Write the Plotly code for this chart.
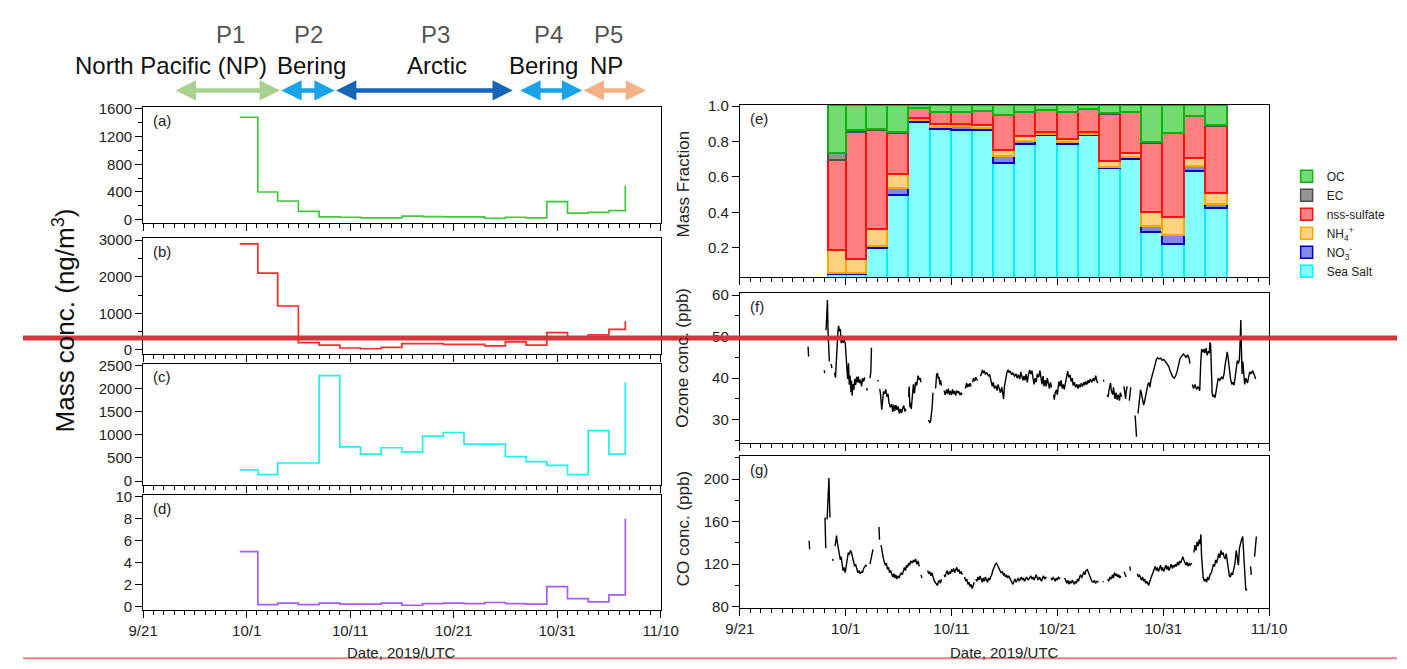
import plotly.graph_objects as go
import pandas as pd
from datetime import datetime, timedelta

# ---------------- data ----------------
# left panels: step series (sample start times; last point drawn as final spike)
left_times = ["2019-09-30 08:00", "2019-10-02 02:00", "2019-10-04", "2019-10-06", "2019-10-08",
              "2019-10-10", "2019-10-12", "2019-10-14", "2019-10-16", "2019-10-18", "2019-10-20",
              "2019-10-22", "2019-10-24", "2019-10-26", "2019-10-28", "2019-10-30", "2019-11-01",
              "2019-11-03", "2019-11-05", "2019-11-06 14:00"]
oc_mass = [1480, 400, 270, 120, 40, 35, 25, 25, 50, 45, 40, 40, 20, 35, 25, 260, 95, 105, 130, 490]
sulfate_mass = [2900, 2100, 1200, 200, 130, 50, 30, 70, 170, 170, 150, 150, 110, 220, 130, 470, 330, 410, 560, 780]
seasalt_mass = [240, 140, 390, 390, 2280, 740, 580, 720, 630, 970, 1050, 800, 800, 530, 420, 340, 140, 1090, 580, 2140]
panel_d_mass = [5.0, 0.15, 0.3, 0.15, 0.3, 0.2, 0.2, 0.3, 0.1, 0.25, 0.3, 0.25, 0.35, 0.25, 0.2, 1.8, 0.7, 0.4, 1.05, 8.0]

# panel (e): mass fractions, one bar per filter sample
bar_edges = ["2019-09-29 09:00", "2019-10-01 02:00", "2019-10-03 00:00", "2019-10-05 00:00", "2019-10-07 00:00",
             "2019-10-09 00:00", "2019-10-11 00:00", "2019-10-13 00:00", "2019-10-15 00:00", "2019-10-17 00:00",
             "2019-10-19 00:00", "2019-10-21 00:00", "2019-10-23 00:00", "2019-10-25 00:00", "2019-10-27 00:00",
             "2019-10-29 00:00", "2019-10-31 00:00", "2019-11-02 00:00", "2019-11-04 00:00", "2019-11-06 03:00"]
frac_seasalt = [.045, .045, .195, .495, .905, .866, .86, .86, .675, .78, .83, .783, .83, .645, .697, .283, .218, .628, .42]
frac_no3 = [.005, .01, .01, .04, .015, .014, .025, .01, .037, .02, .008, .01, .008, .009, .009, .037, .052, .032, .025]
frac_nh4 = [.13, .075, .095, .075, .01, .015, .01, .02, .038, .025, .014, .017, .012, .03, .027, .077, .10, .042, .062]
frac_sulfate = [.51, .72, .562, .233, .055, .065, .065, .077, .195, .138, .12, .152, .13, .27, .227, .391, .473, .238, .377]
frac_ec = [.04, .01, .006, .004, .002, .002, .002, .002, .003, .002, .002, .002, .002, .002, .002, .004, .003, .002, .003]
frac_oc = [.27, .14, .132, .153, .013, .038, .038, .031, .052, .035, .026, .036, .018, .044, .038, .208, .154, .058, .113]

# ozone (days after 2019-09-21, ppb); None = data gap
ozone_obs = [
    (6.45, 47.6), (6.50, 45.2), None, (7.98, 41.9), (8.02, 41.2), None,
    (8.15, 51.5), (8.22, 55.5), (8.28, 58.8), (8.34, 51.0), (8.40, 44.3), (8.46, 44.0), None,
    (8.62, 43.4), (8.70, 42.4), None,
    (8.95, 41.3), (9.04, 40.1), (9.12, 44.0), (9.20, 49.5), (9.28, 51.5), (9.34, 52.6), (9.42, 51.3),
    (9.50, 51.8), (9.58, 48.4), (9.66, 50.2), (9.76, 48.5), (9.86, 49.4), (9.97, 48.2), (10.05, 45.0),
    (10.12, 41.2), (10.19, 39.8), (10.27, 43.6), (10.34, 38.4), (10.42, 40.6), (10.50, 36.6), (10.56, 39.4),
    (10.61, 35.8), (10.70, 38.6), (10.78, 37.2), (10.86, 39.8), (10.95, 38.4), (11.04, 40.3), (11.12, 39.0),
    (11.20, 40.4), (11.30, 38.8), (11.40, 39.6), (11.50, 38.0), (11.60, 40.0), (11.70, 39.2), (11.80, 40.2), None,
    (12.00, 37.6), (12.03, 37.0), None, (12.30, 40.0), (12.38, 41.6), (12.44, 47.3), None,
    (13.05, 39.6), (13.08, 39.2), None,
    (13.22, 37.4), (13.30, 36.0), (13.41, 32.4), (13.50, 34.6), (13.58, 36.8), (13.68, 36.2), (13.79, 37.3),
    (13.90, 35.5), (14.00, 36.2), (14.10, 34.0), (14.22, 33.0), (14.35, 33.8), (14.45, 31.9), (14.55, 33.6),
    (14.64, 32.1), (14.75, 33.5), (14.86, 32.3), (14.95, 33.2), (15.07, 31.5), (15.18, 32.6), (15.28, 31.6),
    (15.40, 32.8), (15.49, 33.4), (15.60, 32.0), (15.70, 32.6), None,
    (15.95, 35.5), (16.00, 38.0), (16.07, 33.0), (16.13, 34.0), (16.20, 32.6), (16.30, 35.0), (16.40, 38.5),
    (16.50, 36.3), (16.60, 39.0), (16.70, 38.2), (16.85, 40.6), (16.95, 39.6), (17.05, 40.0), (17.12, 39.0), None,
    (17.83, 29.9), (17.95, 29.2), (18.04, 29.9), (18.12, 31.5), (18.17, 33.0), (18.25, 36.5), None,
    (18.50, 37.5), (18.59, 40.8), (18.68, 41.2), (18.76, 39.8), (18.82, 40.3), (18.89, 38.5), (18.96, 39.5),
    (19.05, 38.2), None,
    (19.30, 37.0), (19.40, 36.0), (19.52, 37.2), (19.60, 36.3), (19.70, 37.5), (19.80, 36.0), (19.90, 36.9),
    (20.00, 35.9), (20.10, 37.3), (20.20, 36.2), (20.30, 36.9), (20.40, 35.8), (20.50, 37.0), (20.60, 36.4),
    (20.70, 36.8), (20.80, 35.9), (20.90, 36.5), (21.00, 36.0), None,
    (21.30, 37.5), (21.43, 38.8), (21.50, 37.8), (21.56, 38.6), (21.65, 37.9), (21.75, 38.8), (21.86, 38.0), None,
    (22.00, 39.0), (22.07, 40.0), (22.20, 39.3), (22.30, 40.2), (22.40, 39.6), (22.50, 39.5), None,
    (22.70, 40.5), (22.80, 40.8), (22.92, 42.0), (23.00, 41.2), (23.10, 41.8), (23.20, 41.0), (23.34, 41.3),
    (23.50, 40.5), (23.60, 40.9), (23.77, 39.0), (23.85, 38.0), (23.95, 39.0), (24.05, 37.5), (24.19, 38.2),
    (24.30, 37.0), (24.40, 38.5), (24.50, 37.6), (24.62, 36.5), (24.75, 37.8), (24.85, 36.0), (24.92, 35.0),
    (25.00, 38.0), (25.10, 39.5), (25.25, 41.5), (25.35, 42.0), (25.45, 41.3), (25.55, 41.7), (25.68, 40.8),
    (25.80, 41.3), (25.95, 40.5), (26.10, 41.0), (26.20, 40.0), (26.32, 40.8), (26.45, 39.8), (26.55, 41.5),
    (26.65, 40.3), (26.74, 39.5), (26.85, 40.5), (26.95, 39.5), (27.05, 41.0), (27.16, 39.0), (27.25, 40.5),
    (27.38, 42.0), (27.50, 41.0), (27.60, 41.8), (27.70, 40.0), (27.80, 38.5), (27.90, 40.0), (28.00, 39.0),
    (28.10, 41.0), (28.23, 40.2), (28.35, 41.8), (28.44, 40.0), (28.55, 38.5), (28.65, 40.5), (28.75, 38.0),
    (28.86, 39.5), (28.95, 38.0), (29.05, 40.0), (29.15, 38.5), (29.25, 37.5), (29.35, 39.0), (29.45, 37.8), None,
    (29.65, 36.0), (29.71, 34.8), (29.80, 36.5), (29.92, 37.2), (30.00, 36.0), (30.14, 39.2), (30.25, 38.0),
    (30.35, 39.5), (30.45, 37.5), (30.56, 38.5), (30.65, 37.3), (30.77, 38.8), (30.88, 40.0), (30.98, 41.7),
    (31.08, 40.2), (31.20, 40.8), (31.30, 39.2), (31.40, 40.0), (31.50, 38.2), (31.62, 39.0), (31.72, 37.8),
    (31.85, 38.5), (31.95, 37.5), (32.05, 38.5), (32.15, 37.8), (32.26, 38.8), (32.38, 38.0), (32.50, 39.0),
    (32.60, 38.3), (32.68, 39.2), (32.80, 38.5), (32.90, 39.5), (33.00, 38.8), (33.11, 39.8), (33.25, 39.0),
    (33.40, 40.0), (33.50, 39.3), (33.62, 40.6), (33.72, 39.5), (33.80, 38.8), None,
    (34.35, 39.6), (34.40, 39.2), None,
    (34.70, 36.0), (34.80, 35.5), (34.90, 37.5), (35.02, 38.8), (35.10, 37.0), (35.23, 36.0), (35.30, 37.8),
    (35.44, 35.0), (35.55, 36.5), (35.65, 34.8), (35.75, 36.0), (35.87, 34.6), (35.95, 36.5), (36.08, 35.5), None,
    (36.29, 38.0), (36.35, 36.5), (36.45, 35.0), (36.50, 36.8), (36.60, 38.0), None,
    (36.80, 34.6), (36.93, 37.8), None,
    (37.35, 31.0), (37.42, 28.5), (37.48, 25.9), None,
    (37.62, 31.5), (37.69, 33.0), (37.78, 36.0), (37.86, 37.2), (37.95, 36.2), (38.05, 35.0), (38.15, 33.5),
    (38.25, 34.5), (38.35, 36.0), (38.45, 37.5), (38.55, 38.5), (38.65, 39.0), (38.75, 37.8), (38.84, 39.5),
    (38.95, 40.5), (39.05, 41.5), (39.15, 42.0), (39.26, 43.5), (39.35, 44.5), (39.47, 44.9), (39.60, 44.6),
    (39.75, 44.8), (39.90, 44.3), (40.05, 44.5), (40.20, 44.0), (40.35, 43.5), (40.53, 42.8), (40.65, 41.8),
    (40.75, 41.0), (40.90, 40.3), (41.05, 40.0), (41.17, 40.5), (41.30, 41.5), (41.38, 42.5), (41.50, 44.0),
    (41.60, 44.8), (41.75, 45.3), (41.90, 45.8), (42.02, 45.5), (42.15, 45.0), (42.30, 45.6), (42.44, 44.8),
    (42.53, 43.5), None,
    (42.75, 38.5), (42.87, 37.5), (43.00, 38.5), (43.15, 37.3), (43.29, 38.0), (43.45, 37.0), (43.55, 44.0),
    (43.63, 47.0), (43.75, 46.2), (43.85, 47.0), (43.93, 46.0), (44.05, 47.2), (44.15, 45.5), (44.25, 46.5),
    (44.35, 46.0), (44.42, 48.6), (44.48, 48.0), (44.55, 41.0), (44.62, 36.5), (44.70, 35.5), (44.80, 36.0),
    (44.90, 35.3), (45.00, 37.0), (45.10, 39.0), (45.20, 40.0), (45.35, 39.5), (45.50, 40.2), (45.63, 39.8),
    (45.75, 41.0), (45.84, 43.0), (45.95, 45.0), (46.05, 46.3), (46.15, 44.5), (46.25, 42.0), (46.35, 40.0),
    (46.48, 38.5), (46.60, 39.0), (46.70, 38.3), (46.80, 40.5), (46.90, 43.5), (47.00, 44.2), (47.10, 43.5),
    (47.20, 44.5), (47.28, 50.0), (47.33, 54.0), (47.38, 48.0), (47.45, 41.0), (47.52, 44.0), (47.60, 40.0),
    (47.70, 38.5), (47.80, 40.0), (47.96, 38.8), (48.05, 40.0), (48.17, 41.5), (48.30, 41.0), (48.45, 41.8),
    (48.60, 40.8), (48.73, 39.8),
]

# CO (days after 2019-09-21, ppb); None = data gap
co_obs = [
    (6.55, 142), (6.60, 134), None, (8.05, 164), (8.08, 153), (8.12, 135), None,
    (8.25, 162), (8.35, 185), (8.42, 201), (8.47, 180), (8.52, 164), None, (8.78, 125), (8.82, 123), None,
    (9.00, 137), (9.08, 145), (9.14, 147), (9.22, 140), (9.30, 136), (9.40, 131), (9.50, 124), (9.58, 127),
    (9.66, 119), (9.75, 114), (9.85, 117), (9.96, 112), (10.05, 118), (10.15, 126), (10.25, 131), (10.35, 129),
    (10.45, 133), (10.55, 131), (10.65, 127), (10.75, 122), (10.85, 118), (10.94, 120), (11.05, 115), (11.15, 112),
    (11.25, 114), (11.37, 111), (11.50, 113), (11.60, 112), (11.70, 116), (11.80, 117), (11.90, 119), (12.00, 118), None,
    (12.30, 120), (12.40, 124), (12.50, 129), (12.58, 134), None, (13.15, 155), (13.20, 143), None,
    (13.35, 138), (13.45, 130), (13.55, 126), (13.65, 122), (13.75, 119), (13.85, 121), (13.95, 115), (14.05, 117),
    (14.15, 112), (14.25, 114), (14.35, 110), (14.45, 108), (14.55, 111), (14.65, 107), (14.75, 110), (14.85, 106),
    (14.95, 109), (15.05, 107), (15.15, 110), (15.24, 112), (15.35, 110), (15.45, 115), (15.55, 117), (15.65, 114),
    (15.75, 119), (15.85, 117), (15.95, 121), (16.05, 119), (16.15, 123), (16.30, 121), (16.40, 124), (16.50, 122),
    (16.60, 125), (16.74, 120), (16.85, 123), (16.95, 118), None, (17.12, 110), (17.20, 107), None,
    (17.75, 114), (17.85, 111), (17.95, 113), (18.05, 109), (18.15, 112), (18.25, 107), (18.35, 105), (18.45, 103),
    (18.55, 101), (18.67, 100), (18.75, 103), (18.85, 105), (18.95, 102), (19.05, 106), None,
    (19.30, 110), (19.40, 108), (19.50, 112), (19.60, 114), (19.70, 110), (19.80, 113), (19.90, 111), (20.00, 115),
    (20.10, 113), (20.20, 116), (20.30, 112), (20.40, 114), (20.50, 117), (20.60, 113), (20.70, 115), (20.80, 111),
    (20.90, 113), (21.03, 110), None,
    (21.24, 108), (21.35, 104), (21.45, 106), (21.55, 101), (21.65, 103), (21.75, 99), (21.85, 101), (21.95, 97),
    (22.05, 100), (22.15, 103), None,
    (22.30, 106), (22.40, 104), (22.50, 108), (22.60, 105), (22.70, 109), (22.80, 106), (22.90, 103), (23.00, 107),
    (23.10, 104), (23.20, 108), (23.30, 106), (23.40, 103), (23.50, 107), (23.60, 105), (23.70, 108), (23.80, 110),
    (23.90, 114), (24.03, 118), (24.15, 120), (24.25, 121), (24.35, 119), (24.46, 117), (24.55, 115), (24.68, 112),
    (24.80, 113), (24.90, 110), (25.00, 111), (25.10, 108), (25.20, 110), (25.30, 107), (25.40, 109), (25.50, 106),
    (25.60, 105), (25.70, 103), (25.80, 101), (25.90, 104), (26.00, 106), (26.10, 103), (26.20, 105), (26.30, 107),
    (26.40, 104), (26.50, 106), (26.60, 108), (26.70, 105), (26.80, 107), (26.90, 104), (27.00, 106), (27.10, 108),
    (27.25, 105), (27.40, 107), (27.50, 109), (27.60, 106), (27.70, 108), (27.80, 105), (27.90, 107), (28.00, 110),
    (28.10, 107), (28.20, 105), (28.30, 108), (28.40, 106), (28.50, 104), (28.60, 107), (28.70, 109), (28.80, 106),
    (28.97, 108), None,
    (29.40, 107), (29.50, 105), (29.60, 108), (29.70, 106), (29.80, 104), (29.90, 107), (30.00, 105), (30.10, 108),
    (30.26, 106), None,
    (30.69, 107), (30.80, 104), (30.90, 102), (31.00, 105), (31.10, 101), (31.20, 104), (31.30, 102), (31.40, 105),
    (31.50, 103), (31.60, 101), (31.70, 104), (31.80, 102), (31.90, 106), (32.00, 104), (32.10, 108), (32.20, 110),
    (32.30, 107), (32.40, 111), (32.50, 113), (32.60, 110), (32.70, 114), (32.83, 115), (32.95, 112), (33.05, 109),
    (33.15, 106), (33.26, 104), (33.40, 103), (33.50, 105), (33.60, 102), (33.75, 104), (33.90, 103), None,
    (34.30, 104), (34.35, 103), None,
    (34.76, 106), (34.85, 104), (34.98, 108), (35.10, 106), (35.20, 110), (35.30, 107), (35.40, 112), (35.50, 109),
    (35.60, 111), (35.70, 108), (35.80, 110), (35.90, 107), (36.00, 109), None,
    (36.30, 113), (36.40, 110), (36.50, 108), None, (36.85, 118), (36.90, 114), None,
    (37.55, 111), (37.65, 108), (37.75, 110), (37.85, 107), (37.95, 105), (38.05, 108), (38.15, 104), (38.25, 106),
    (38.35, 102), (38.45, 104), (38.55, 101), (38.63, 100), (38.70, 103), (38.80, 106), (38.90, 109), (39.06, 112),
    (39.15, 115), (39.25, 118), (39.35, 114), (39.45, 117), (39.55, 113), (39.65, 116), (39.75, 119), (39.85, 114),
    (39.95, 117), (40.05, 113), (40.15, 116), (40.25, 119), (40.35, 115), (40.45, 118), (40.55, 114), (40.65, 117),
    (40.75, 120), (40.85, 116), (40.95, 119), (41.05, 117), (41.15, 120), (41.25, 118), (41.35, 122), (41.45, 119),
    (41.55, 123), (41.65, 121), (41.75, 125), (41.85, 127), (41.95, 124), (42.06, 121), (42.15, 119), (42.25, 122),
    (42.35, 118), (42.45, 121), (42.55, 119), (42.70, 121), None,
    (42.90, 131), (43.00, 138), (43.10, 133), (43.20, 141), (43.30, 137), (43.40, 143), (43.50, 139), (43.56, 148),
    (43.62, 128), (43.70, 115), (43.78, 107), (43.90, 104), (44.00, 106), (44.10, 103), (44.20, 108), (44.30, 105),
    (44.42, 110), (44.55, 112), (44.64, 117), (44.75, 120), (44.85, 118), (44.95, 124), (45.05, 121), (45.15, 127),
    (45.25, 130), (45.35, 126), (45.45, 133), (45.55, 129), (45.65, 131), (45.75, 127), (45.85, 125), (45.95, 130),
    (46.05, 123), (46.14, 112), (46.25, 109), (46.35, 108), (46.45, 112), (46.55, 110), (46.65, 116), (46.78, 121),
    (46.90, 133), (47.00, 127), (47.10, 119), (47.20, 135), (47.30, 141), (47.40, 143), (47.51, 146), (47.60, 128),
    (47.68, 115), (47.73, 97), (47.80, 96), (47.94, 96), None,
    (48.25, 118), (48.32, 110), None, (48.63, 127), (48.80, 146),
]

# cruise periods (header arrows)
period_names = ["P1", "P2", "P3", "P4", "P5"]
period_regions = ["North Pacific (NP)", "Bering", "Arctic", "Bering", "NP"]
period_start = ["2019-09-24 00:00", "2019-10-04 05:00", "2019-10-09 12:00", "2019-10-27 07:00", "2019-11-02 10:00"]
period_end = ["2019-10-04 05:00", "2019-10-09 12:00", "2019-10-26 17:00", "2019-11-02 10:00", "2019-11-08 14:00"]

# ---------------- helpers ----------------
W, H = 1407, 669
FONT = "Arial, Liberation Sans, sans-serif"
BASE = datetime(2019, 9, 21)
TICK_FONT = dict(family=FONT, size=15, color="#222")


def px(x):
    return x / W


def py(y):
    return 1 - y / H


def to_time(d):
    return (BASE + timedelta(days=d)).strftime("%Y-%m-%d %H:%M:%S")


def split_obs(obs):
    xs, ys = [], []
    for p in obs:
        if p is None:
            xs.append(None)
            ys.append(None)
        else:
            xs.append(to_time(p[0]))
            ys.append(p[1])
    return xs, ys


LEFT_DOM = [px(123), px(653)]
RIGHT_DOM = [px(734), px(1276)]
XRANGE = ["2019-09-20 23:59", "2019-11-10 00:01"]


def xaxis(domain, anchor, labels):
    return dict(domain=domain, anchor=anchor, type="date", range=XRANGE,
                tick0="2019-09-21", dtick=10 * 86400000, tickformat="%-m/%-d",
                ticks="outside", ticklen=7, tickwidth=1, tickcolor="black",
                showline=True, linecolor="black", linewidth=1, mirror=True,
                showgrid=False, zeroline=False, showticklabels=labels,
                tickfont=TICK_FONT,
                minor=dict(dtick=86400000, tick0="2019-09-21", ticks="outside",
                           ticklen=4, tickcolor="black", showgrid=False))


def yaxis(top, bottom, anchor, rng, dtick, minor=None, tick0=0, fmt=None, tickvals=None):
    d = dict(domain=[py(bottom), py(top)], anchor=anchor, range=rng,
             tick0=tick0, dtick=dtick, ticks="outside", ticklen=7, tickwidth=1,
             tickcolor="black", showline=True, linecolor="black", linewidth=1,
             mirror=True, showgrid=False, zeroline=False, tickfont=TICK_FONT)
    if minor:
        d["minor"] = dict(dtick=minor, tick0=tick0, ticks="outside", ticklen=4,
                          tickcolor="black", showgrid=False)
    if fmt:
        d["tickformat"] = fmt
    if tickvals:
        d["tickmode"] = "array"
        d["tickvals"] = tickvals
    return d


fig = go.Figure()

# ---------------- left step panels ----------------
step_specs = [(oc_mass, "#3DC83D", "x", "y"),
              (sulfate_mass, "#FF2A2A", "x2", "y2"),
              (seasalt_mass, "#1FF0F0", "x3", "y3"),
              (panel_d_mass, "#A45CFF", "x4", "y4")]
for vals, col, xa, ya in step_specs:
    fig.add_trace(go.Scatter(x=left_times, y=vals, mode="lines",
                             line=dict(shape="hv", color=col, width=1.7),
                             xaxis=xa, yaxis=ya, showlegend=False, hoverinfo="skip"))

# ---------------- panel (e) stacked bars ----------------
edges = pd.to_datetime(bar_edges, format="mixed")
bar_x = [t.strftime("%Y-%m-%d %H:%M:%S") for t in edges[:-1]]
bar_w = [(edges[i + 1] - edges[i]).total_seconds() * 1000 for i in range(len(edges) - 1)]
bar_specs = [("Sea Salt", frac_seasalt, "#85FFFF", "#00F0FF"),
             ("NO<sub>3</sub><sup>-</sup>", frac_no3, "#8585EE", "#0000C8"),
             ("NH<sub>4</sub><sup>+</sup>", frac_nh4, "#FFD27F", "#FFA500"),
             ("nss-sulfate", frac_sulfate, "#FF8080", "#FF1010"),
             ("EC", frac_ec, "#959595", "#505050"),
             ("OC", frac_oc, "#72DC72", "#10B010")]
for name, vals, fill, edge in bar_specs:
    fig.add_trace(go.Bar(x=bar_x, y=vals, width=bar_w, offset=0, name=name,
                         marker=dict(color=fill, line=dict(color=edge, width=1.5)),
                         xaxis="x5", yaxis="y5", hoverinfo="skip"))

# ---------------- ozone / CO ----------------
ox, oy = split_obs(ozone_obs)
cx, cy = split_obs(co_obs)
fig.add_trace(go.Scatter(x=ox, y=oy, mode="lines", line=dict(color="black", width=1.4),
                         connectgaps=False, xaxis="x6", yaxis="y6", showlegend=False, hoverinfo="skip"))
fig.add_trace(go.Scatter(x=cx, y=cy, mode="lines", line=dict(color="black", width=1.4),
                         connectgaps=False, xaxis="x7", yaxis="y7", showlegend=False, hoverinfo="skip"))

# ---------------- axes ----------------
lay = dict(
    xaxis=xaxis(LEFT_DOM, "y", False),
    xaxis2=xaxis(LEFT_DOM, "y2", False),
    xaxis3=xaxis(LEFT_DOM, "y3", False),
    xaxis4=xaxis(LEFT_DOM, "y4", True),
    xaxis5=xaxis(RIGHT_DOM, "y5", False),
    xaxis6=xaxis(RIGHT_DOM, "y6", False),
    xaxis7=xaxis(RIGHT_DOM, "y7", True),
    yaxis=yaxis(94, 212, "x", [-42, 1628], 400, minor=200),
    yaxis2=yaxis(228, 346, "x2", [-107, 3054], 1000, minor=500),
    yaxis3=yaxis(356, 480, "x3", [-85, 2542], 500),
    yaxis4=yaxis(490, 608, "x4", [-0.36, 10.18], 2),
    yaxis5=yaxis(91.7, 267.7, "x5", [0.034, 1.008], 0.2, fmt=".1f",
                 tickvals=[0.2, 0.4, 0.6, 0.8, 1.0]),
    yaxis6=yaxis(284.3, 436.7, "x6", [24.5, 60.4], 10, minor=5),
    yaxis7=yaxis(450.7, 606, "x7", [78.5, 221.5], 40, minor=20, tick0=80),
)
fig.update_layout(**lay)

annotations = []
# panel letters
letters = [("(a)", 123, 94), ("(b)", 123, 228), ("(c)", 123, 356), ("(d)", 123, 490),
           ("(e)", 734, 91.7), ("(f)", 734, 284.3), ("(g)", 734, 450.7)]
for txt, lx, ty in letters:
    annotations.append(dict(text=txt, x=px(lx + 8), y=py(ty + 3), xref="paper", yref="paper",
                            xanchor="left", yanchor="top", showarrow=False,
                            font=dict(family=FONT, size=15, color="#222")))

# axis titles
annotations.append(dict(text="Mass conc. (ng/m<sup>3</sup>)", x=px(42), y=py(312), xref="paper",
                        yref="paper", xanchor="center", yanchor="middle", textangle=-90,
                        showarrow=False, font=dict(family=FONT, size=26, color="#111")))
for txt, cyv in [("Mass Fraction", 173), ("Ozone conc. (ppb)", 350), ("CO conc. (ppb)", 525)]:
    annotations.append(dict(text=txt, x=px(676), y=py(cyv), xref="paper", yref="paper",
                            xanchor="center", yanchor="middle", textangle=-90, showarrow=False,
                            font=dict(family=FONT, size=17, color="#222")))
for cxp in [388, 1005]:
    annotations.append(dict(text="Date, 2019/UTC", x=px(cxp), y=py(651), xref="paper", yref="paper",
                            xanchor="center", yanchor="middle", showarrow=False,
                            font=dict(family=FONT, size=15, color="#222")))

# header: periods and arrows
arrow_cols = ["#A9D18E", "#1AA3E8", "#1566B8", "#1AA3E8", "#F4B183"]
p_label_x = [212, 292, 422, 538, 600]
region_label = [(252, "right"), (258, "left"), (424, "center"), (533, "center"), (598, "center")]
for i in range(len(period_names)):
    annotations.append(dict(text="", x=period_end[i], y=py(77), xref="x", yref="paper",
                            ax=period_start[i], ay=0, axref="x", ayref="pixel",
                            showarrow=True, arrowside="end+start", arrowhead=2,
                            arrowsize=0.9, arrowwidth=4.5, arrowcolor=arrow_cols[i]))
    annotations.append(dict(text=period_names[i], x=px(p_label_x[i]), y=py(20), xref="paper",
                            yref="paper", xanchor="center", yanchor="middle", showarrow=False,
                            font=dict(family=FONT, size=24, color="#555")))
    annotations.append(dict(text=period_regions[i], x=px(region_label[i][0]), y=py(52),
                            xref="paper", yref="paper", xanchor=region_label[i][1],
                            yanchor="middle", showarrow=False,
                            font=dict(family=FONT, size=24, color="#111")))

shapes = [
    dict(type="line", xref="paper", yref="paper", x0=0, x1=1, y0=py(330), y1=py(330),
         line=dict(color="#D1363A", width=5)),
    dict(type="line", xref="paper", yref="paper", x0=0, x1=1, y0=py(657), y1=py(657),
         line=dict(color="#E88080", width=2)),
]

fig.update_layout(
    width=W, height=H, autosize=False,
    margin=dict(l=0, r=0, t=0, b=0),
    paper_bgcolor="white", plot_bgcolor="white",
    barmode="stack", bargap=0,
    font=dict(family=FONT, size=14, color="#222"),
    annotations=annotations, shapes=shapes,
    legend=dict(x=px(1294), y=py(150), xanchor="left", yanchor="top",
                traceorder="reversed", bgcolor="rgba(0,0,0,0)",
                font=dict(family=FONT, size=12, color="#222"),
                itemwidth=30, tracegroupgap=0),
    showlegend=True,
)

fig.write_html("out.html")
